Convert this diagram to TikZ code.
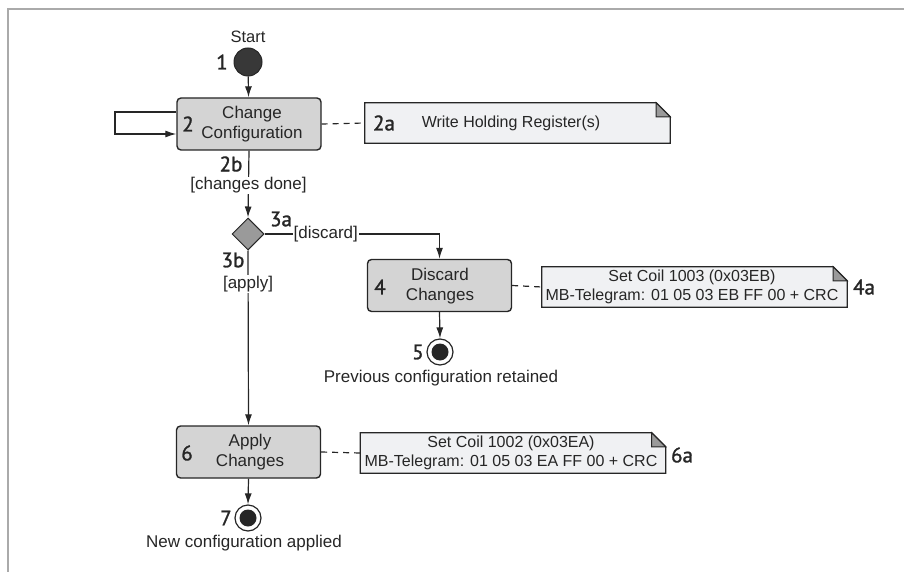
\documentclass[tikz,border=0pt]{standalone}
\usepackage{fontspec}
\setmainfont{Liberation Sans}
\newfontfamily\lblfont{PT Sans}[FakeBold=1.3]
\usetikzlibrary{arrows.meta,shapes.geometric}
\definecolor{linecol}{HTML}{262626}
\definecolor{boxfill}{HTML}{D4D4D4}
\definecolor{notefill}{HTML}{F0F1F3}
\definecolor{foldfill}{HTML}{9A9A9A}
\definecolor{diafill}{HTML}{9A9A9A}
\definecolor{framecol}{HTML}{AAAAAA}
\begin{document}
\begin{tikzpicture}[x=1pt,y=-1pt,
  every node/.style={font=\fontsize{17}{20}\selectfont, text=linecol},
  actbox/.style={draw=linecol, line width=1.4pt, fill=boxfill, rounded corners=4pt,
    minimum width=144pt, minimum height=52pt, inner sep=0pt},
  notebox/.style={minimum width=305pt, minimum height=40pt, inner sep=0pt},
  lbl/.style={font=\lblfont\fontsize{21}{22}\selectfont, inner sep=0pt, text=linecol},
  txt/.style={align=center, inner sep=0pt},
  notetxt/.style={align=center, inner sep=0pt, font=\fontsize{16}{19}\selectfont},
  guard/.style={fill=white, inner sep=1pt},
  startc/.style={circle, draw=linecol, line width=1pt, fill=black!78, minimum size=28pt, inner sep=0pt},
  endc/.style={circle, draw=linecol, line width=1.2pt, fill=white, minimum size=26pt, inner sep=0pt},
  dia/.style={diamond, draw=linecol, line width=1pt, fill=diafill, minimum width=32pt, minimum height=32pt, inner sep=0pt},
  arr/.style={draw=linecol, line width=1.2pt, -{Latex[length=11pt,width=7pt]}},
  conn/.style={draw=linecol, line width=1.2pt},
  dashln/.style={draw=linecol, line width=1.2pt, dash pattern=on 6pt off 5pt},
  noteline/.style={draw=linecol, line width=1.2pt, fill=notefill},
  fold/.style={draw=linecol, line width=1pt, fill=foldfill, line join=miter}
]
\useasboundingbox (0,0) rectangle (904,572);
\draw[framecol, line width=1.5pt] (8,572) -- (8,9) -- (904,9);

% start
\node[font=\fontsize{16.5}{20}\selectfont] (starttxt) at (248,37) {Start};
\node[startc] (s1) at (248,62) {};
\node[lbl] (l1) at (222,62) {1};

% box 2
\node[actbox] (b2) at (249,124) {};
\node[txt] (t2) at (252,124) {Change\\Configuration};
\node[lbl] (l2) at (188,124) {2};

% note 2a
\node[notebox] (n2) at (517.5,123) {};
\draw[noteline] (n2.north west) -- ([xshift=-14pt]n2.north east) -- ([yshift=-14pt]n2.north east) -- (n2.south east) -- (n2.south west) -- cycle;
\draw[fold] ([xshift=-14pt]n2.north east) -- ([xshift=-14pt,yshift=-14pt]n2.north east) -- ([yshift=-14pt]n2.north east) -- cycle;
\node[lbl] (l2a) at (384,123) {2a};
\node[notetxt] (t2a) at (511,123) {Write Holding Register(s)};

% decision
\node[dia] (d3) at (248,234) {};
\node[lbl] (l2b) at (231,164) {2b};
\node[lbl] (l3a) at (281,219) {3a};
\node[lbl] (l3b) at (233,260) {3b};

% box 4
\node[actbox] (b4) at (439.5,285.5) {};
\node[txt] (t4) at (440,286) {Discard\\Changes};
\node[lbl] (l4) at (380,287) {4};

% note 4a
\node[notebox] (n4) at (694.5,287) {};
\draw[noteline] (n4.north west) -- ([xshift=-14pt]n4.north east) -- ([yshift=-14pt]n4.north east) -- (n4.south east) -- (n4.south west) -- cycle;
\draw[fold] ([xshift=-14pt]n4.north east) -- ([xshift=-14pt,yshift=-14pt]n4.north east) -- ([yshift=-14pt]n4.north east) -- cycle;
\node[notetxt] (t4a) at (692,287) {Set Coil 1003 (0x03EB)\\MB-Telegram: 01 05 03 EB FF 00 + CRC};
\node[lbl] (l4a) at (864,287) {4a};

% end 5
\node[endc] (e5) at (440,352) {};
\fill[linecol] (e5.center) circle (8.5pt);
\node[lbl] (l5) at (418,352) {5};
\node[txt] (t5) at (441,378) {Previous configuration retained};

% box 6
\node[actbox] (b6) at (248.5,452) {};
\node[txt] (t6) at (250,452) {Apply\\Changes};
\node[lbl] (l6) at (187,453) {6};

% note 6a
\node[notebox] (n6) at (513,453) {};
\draw[noteline] (n6.north west) -- ([xshift=-14pt]n6.north east) -- ([yshift=-14pt]n6.north east) -- (n6.south east) -- (n6.south west) -- cycle;
\draw[fold] ([xshift=-14pt]n6.north east) -- ([xshift=-14pt,yshift=-14pt]n6.north east) -- ([yshift=-14pt]n6.north east) -- cycle;
\node[notetxt] (t6a) at (511,453) {Set Coil 1002 (0x03EA)\\MB-Telegram: 01 05 03 EA FF 00 + CRC};
\node[lbl] (l6a) at (682,455) {6a};

% end 7
\node[endc] (e7) at (248,518) {};
\fill[linecol] (e7.center) circle (8.5pt);
\node[lbl] (l7) at (226,518) {7};
\node[txt] (t7) at (244,543) {New configuration applied};

% connectors
\draw[arr] (s1) -- (b2);
\coordinate (la) at (115,112);
\coordinate (lb) at (115,134);
\draw[arr] (b2.west |- la) -- (la) -- (lb) -- (b2.west |- lb);
\draw[dashln] (b2.east) -- (n2.west);
\draw[arr] (b2.south) -- node[guard, pos=0.52] {[changes done]} (d3.north);
\coordinate (c4) at (b4.north |- d3.east);
\draw[conn] (d3.east) -- node[guard, pos=0.35] {[discard]} (c4);
\draw[arr] (c4) -- (b4.north);
\draw[arr] (d3.south) -- node[guard, pos=0.19] {[apply]} (b6.north);
\draw[dashln] (b4.east) -- (n4.west);
\draw[dashln] (b6.east) -- (n6.west);
\draw[arr] (b4.south) -- (e5.north);
\draw[arr] (b6.south) -- (e7.north);
\end{tikzpicture}
\end{document}
